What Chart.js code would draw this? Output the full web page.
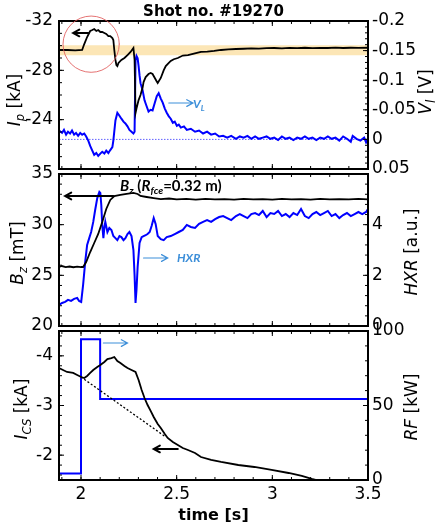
<!DOCTYPE html>
<html lang="en">
<head>
<meta charset="UTF-8">
<title>Shot no. #19270</title>
<script src="https://cdn.jsdelivr.net/npm/chart.js"></script>
<style>
    body { margin: 0; background: #fff; }
    #figura { position: relative; width: 439px; height: 527px; overflow: hidden; }
    #figura canvas { position: absolute; left: 0; top: 0; }
    .rot { position: absolute; transform: translate(-50%, -50%) rotate(-90deg); white-space: nowrap;
           font-family: 'DejaVu Sans', sans-serif; font-size: 17px; line-height: 1; color: #000; }
    .nota { position: absolute; white-space: nowrap; font-family: Lato, sans-serif; font-weight: bold;
            line-height: 1; transform: translateY(-50%); }
    sub { font-size: 68%; vertical-align: -0.35em; line-height: 0; }
</style>
</head>
<body>
<div id="figura">
    <canvas id="painel1" width="439" height="527"></canvas>
    <canvas id="painel2" width="439" height="527"></canvas>
    <canvas id="painel3" width="439" height="527"></canvas>

    <div class="rot" style="left:14px; top:100px"><i>I</i><sub><i>p</i></sub> [kA]</div>
    <div class="rot" style="left:17px; top:253px"><i>B</i><sub><i>z</i></sub> [mT]</div>
    <div class="rot" style="left:21px; top:409px"><i>I</i><sub><i>CS</i></sub> [kA]</div>
    <div class="rot" style="left:425px; top:92px"><i>V</i><sub><i>l</i></sub> [V]</div>
    <div class="rot" style="left:411px; top:252px"><i>HXR</i> [a.u.]</div>
    <div class="rot" style="left:411px; top:407px"><i>RF</i> [kW]</div>

    <div class="nota" style="left:193px; top:104px; font-size:12px; color:#3d8fd9"><i>V<sub>L</sub></i></div>
    <div class="nota" style="left:177px; top:258px; font-size:12px; color:#3d8fd9"><i>HXR</i></div>
    <div class="nota" style="left:120px; top:185px; font-size:15px; color:#000"><i>B</i><sub><i>z</i></sub> (<i>R</i><sub><i>fce</i></sub>=0.32 m)</div>
</div>

<script>
    // Eixo do tempo (comum aos três painéis)
    const tempoLimites = [1.885, 3.5];
    const tempoTicks = [2, 2.5, 3, 3.5];

    // Painel 1: corrente de plasma Ip [kA] e tensão de enlace Vl [V]
    const ipLimites = [-32, -20];
    const ipTicks = [-32, -28, -24];
    const vlLimites = [-0.2, 0.05];
    const vlTicks = [-0.2, -0.15, -0.1, -0.05, 0, 0.05];
    const faixaIp = [-30.04, -29.23];
    const ipDados = [
        [1.885, -29.65], [1.93, -29.65], [1.97, -29.62], [2.006, -29.65], [2.017, -30.13], [2.032, -30.70],
        [2.048, -31.19], [2.059, -31.27], [2.069, -31.35], [2.08, -31.19], [2.09, -31.27], [2.101, -31.11],
        [2.111, -31.11], [2.122, -31.03], [2.132, -30.95], [2.143, -30.78], [2.153, -30.78], [2.164, -30.62],
        [2.169, -30.46], [2.174, -29.65], [2.18, -28.84], [2.185, -28.43], [2.19, -28.35], [2.196, -28.6],
        [2.211, -28.84], [2.227, -29.0], [2.243, -29.24], [2.259, -29.49], [2.274, -29.81], [2.28, -28.84],
        [2.285, -24.54], [2.29, -24.9], [2.301, -25.59], [2.311, -26.0], [2.322, -26.6], [2.327, -27.05],
        [2.338, -27.45], [2.353, -27.70], [2.364, -27.78], [2.374, -27.70], [2.385, -27.40], [2.396, -27.10],
        [2.401, -26.97], [2.417, -27.38], [2.432, -28.0], [2.443, -28.35], [2.459, -28.6], [2.469, -28.76],
        [2.485, -28.9], [2.506, -29.0], [2.532, -29.2], [2.559, -29.24], [2.59, -29.35], [2.627, -29.49],
        [2.66, -29.52], [2.696, -29.57], [2.732, -29.65], [2.77, -29.7], [2.81, -29.73], [2.85, -29.75],
        [2.89, -29.78], [2.93, -29.76], [2.97, -29.8], [3.01, -29.81], [3.05, -29.78], [3.09, -29.82],
        [3.13, -29.80], [3.17, -29.83], [3.21, -29.80], [3.25, -29.82], [3.29, -29.81], [3.33, -29.84],
        [3.37, -29.81], [3.41, -29.83], [3.45, -29.82], [3.5, -29.83]
    ];
    const vlDados = [
        [1.885, -0.015], [1.901, -0.011], [1.911, -0.016], [1.922, -0.008], [1.932, -0.013], [1.943, -0.010],
        [1.953, -0.015], [1.964, -0.008], [1.974, -0.011], [1.985, -0.006], [1.996, -0.011], [2.006, -0.008],
        [2.017, -0.010], [2.027, -0.005], [2.038, 0.002], [2.048, 0.011], [2.059, 0.019], [2.069, 0.026],
        [2.080, 0.023], [2.090, 0.028], [2.101, 0.024], [2.111, 0.021], [2.122, 0.024], [2.132, 0.019],
        [2.143, 0.023], [2.153, 0.018], [2.164, 0.013], [2.169, 0.002], [2.180, -0.032], [2.190, -0.045],
        [2.201, -0.040], [2.211, -0.035], [2.222, -0.030], [2.232, -0.027], [2.243, -0.022], [2.253, -0.016],
        [2.264, -0.013], [2.274, -0.010], [2.280, -0.013], [2.285, -0.134], [2.290, -0.141], [2.296, -0.137],
        [2.301, -0.124], [2.306, -0.108], [2.311, -0.095], [2.322, -0.083], [2.332, -0.066], [2.343, -0.056],
        [2.353, -0.047], [2.364, -0.050], [2.374, -0.049], [2.385, -0.061], [2.396, -0.073], [2.406, -0.078],
        [2.417, -0.069], [2.427, -0.062], [2.438, -0.052], [2.448, -0.045], [2.459, -0.039], [2.469, -0.035],
        [2.480, -0.028], [2.490, -0.030], [2.501, -0.023], [2.511, -0.025], [2.522, -0.020], [2.538, -0.022],
        [2.553, -0.016], [2.574, -0.018], [2.596, -0.013], [2.617, -0.015], [2.638, -0.010], [2.659, -0.013],
        [2.680, -0.008], [2.701, -0.010], [2.722, -0.005], [2.743, -0.006], [2.764, -0.003], [2.785, -0.006],
        [2.81, -0.001], [2.83, -0.005], [2.85, -0.003], [2.87, -0.006], [2.89, -0.001], [2.91, -0.005],
        [2.93, -0.001], [2.95, -0.003], [2.97, -0.005], [2.99, -0.001], [3.01, -0.003], [3.03, 0.001],
        [3.05, -0.005], [3.07, -0.001], [3.09, -0.003], [3.11, 0.001], [3.13, -0.003], [3.15, -0.001],
        [3.17, -0.005], [3.19, -0.001], [3.21, -0.003], [3.23, 0.001], [3.25, -0.003], [3.27, -0.001],
        [3.29, -0.005], [3.31, -0.001], [3.33, -0.003], [3.35, 0.002], [3.37, -0.005], [3.39, -0.001],
        [3.41, 0.004], [3.42, -0.006], [3.44, -0.001], [3.46, 0.002], [3.48, -0.003], [3.49, 0.005], [3.5, -0.001]
    ];
    const vlZero = [[1.885, 0], [3.5, 0]];

    // Painel 2: campo vertical Bz [mT] e raios X duros HXR [u.a.]
    const bzLimites = [20, 35];
    const bzTicks = [20, 25, 30, 35];
    const hxrLimites = [0, 6];
    const hxrTicks = [0, 2, 4];
    const bzDados = [
        [1.885, 25.82], [1.90, 25.92], [1.92, 25.82], [1.94, 25.87], [1.96, 25.80], [1.98, 25.85],
        [2.0, 25.82], [2.011, 25.82], [2.027, 26.31], [2.048, 27.30], [2.069, 28.19], [2.090, 29.08],
        [2.111, 30.26], [2.132, 31.55], [2.153, 32.44], [2.174, 32.83], [2.206, 32.93], [2.238, 33.03],
        [2.274, 33.13], [2.296, 33.03], [2.311, 32.83], [2.343, 32.73], [2.38, 32.63], [2.417, 32.53],
        [2.46, 32.58], [2.50, 32.50], [2.55, 32.55], [2.60, 32.48], [2.65, 32.55], [2.70, 32.50],
        [2.75, 32.53], [2.80, 32.48], [2.85, 32.55], [2.90, 32.50], [2.95, 32.53], [3.00, 32.48],
        [3.05, 32.55], [3.10, 32.50], [3.15, 32.53], [3.20, 32.48], [3.25, 32.55], [3.30, 32.50],
        [3.35, 32.53], [3.40, 32.50], [3.45, 32.55], [3.5, 32.50]
    ];
    const hxrDados = [
        [1.885, 0.83], [1.901, 0.91], [1.917, 0.95], [1.932, 1.03], [1.948, 0.99], [1.964, 1.07],
        [1.980, 1.11], [1.990, 0.99], [2.001, 0.95], [2.011, 1.62], [2.022, 2.53], [2.032, 3.20],
        [2.043, 3.47], [2.053, 3.71], [2.064, 4.11], [2.074, 4.58], [2.085, 5.05], [2.096, 5.29],
        [2.101, 5.25], [2.106, 4.78], [2.111, 3.99], [2.117, 3.47], [2.122, 3.87], [2.127, 4.11],
        [2.138, 3.71], [2.148, 3.87], [2.159, 3.79], [2.169, 3.55], [2.180, 3.47], [2.190, 3.39],
        [2.201, 3.55], [2.211, 3.51], [2.222, 3.39], [2.232, 3.47], [2.243, 3.63], [2.253, 3.71],
        [2.264, 3.55], [2.274, 3.00], [2.280, 2.01], [2.285, 0.91], [2.290, 1.42], [2.296, 2.33],
        [2.306, 3.28], [2.317, 3.51], [2.327, 3.55], [2.338, 3.59], [2.348, 3.63], [2.359, 3.71],
        [2.369, 3.95], [2.380, 4.26], [2.390, 4.03], [2.401, 3.55], [2.417, 3.43], [2.432, 3.39],
        [2.448, 3.51], [2.469, 3.55], [2.490, 3.63], [2.511, 3.71], [2.532, 3.79], [2.553, 3.99],
        [2.574, 3.91], [2.596, 3.87], [2.617, 4.03], [2.638, 4.11], [2.659, 4.18], [2.680, 4.11],
        [2.701, 4.22], [2.722, 4.30], [2.743, 4.34], [2.764, 4.26], [2.785, 4.18], [2.81, 4.34],
        [2.83, 4.42], [2.85, 4.34], [2.87, 4.26], [2.89, 4.42], [2.91, 4.46], [2.93, 4.38],
        [2.95, 4.54], [2.97, 4.30], [2.99, 4.46], [3.01, 4.42], [3.03, 4.54], [3.05, 4.34],
        [3.07, 4.42], [3.09, 4.30], [3.11, 4.46], [3.13, 4.38], [3.15, 4.62], [3.17, 4.34],
        [3.19, 4.26], [3.21, 4.42], [3.23, 4.50], [3.25, 4.38], [3.27, 4.46], [3.29, 4.54],
        [3.31, 4.34], [3.33, 4.42], [3.35, 4.26], [3.37, 4.38], [3.39, 4.46], [3.41, 4.34],
        [3.43, 4.42], [3.45, 4.50], [3.47, 4.42], [3.49, 4.50], [3.5, 4.62]
    ];

    // Painel 3: corrente do solenoide central Ics [kA] e potência de RF [kW]
    const icsLimites = [-4.5, -1.5];
    const icsTicks = [-4, -3, -2];
    const rfLimites = [0, 100];
    const rfTicks = [0, 50, 100];
    const icsDados = [
        [1.885, -3.755], [1.906, -3.715], [1.927, -3.675], [1.959, -3.655], [1.980, -3.614], [2.001, -3.574],
        [2.017, -3.554], [2.032, -3.594], [2.048, -3.655], [2.064, -3.715], [2.085, -3.775], [2.101, -3.816],
        [2.122, -3.876], [2.138, -3.936], [2.159, -3.956], [2.174, -3.977], [2.190, -3.896], [2.206, -3.856],
        [2.227, -3.795], [2.243, -3.755], [2.264, -3.715], [2.285, -3.675], [2.301, -3.514], [2.317, -3.312],
        [2.332, -3.151], [2.348, -3.010], [2.364, -2.890], [2.380, -2.769], [2.401, -2.628], [2.417, -2.547],
        [2.438, -2.427], [2.453, -2.346], [2.480, -2.266], [2.506, -2.205], [2.532, -2.145], [2.559, -2.104],
        [2.596, -2.044], [2.627, -1.963], [2.680, -1.903], [2.732, -1.863], [2.822, -1.802], [2.906, -1.762],
        [2.996, -1.702], [3.085, -1.641], [3.154, -1.581], [3.206, -1.521], [3.27, -1.46]
    ];
    const icsTendencia = [[2.0, -3.574], [2.443, -2.366]];
    const rfDados = [[1.885, 4.4], [2.0, 4.4], [2.0, 94.5], [2.1, 94.5], [2.1, 54.3], [3.5, 54.3]];

    // Setas e círculo de anotação, em coordenadas de dados (eixo da esquerda)
    const setasP1 = [
        { de: [2.038, -31.03], para: [1.959, -31.03], cor: '#000', larg: 2 },
        { de: [2.459, -25.35], para: [2.585, -25.35], cor: '#3d8fd9', larg: 1.2 }
    ];
    const circuloP1 = { centro: [2.053, -30.12], raio: 0.147 };
    const setasP2 = [
        { de: [2.169, 32.83], para: [1.917, 32.83], cor: '#000', larg: 2 },
        { de: [2.327, 26.71], para: [2.453, 26.71], cor: '#3d8fd9', larg: 1.2 }
    ];
    const setasP3 = [
        { de: [2.117, -4.258], para: [2.243, -4.258], cor: '#3d8fd9', larg: 1.2 },
        { de: [2.506, -2.125], para: [2.380, -2.125], cor: '#000', larg: 2 }
    ];

    const fonteTick = { family: "'DejaVu Sans', sans-serif", size: 17 };

    // Moldura, marcas internas dos eixos, setas e círculo
    const molduraPlugin = {
        id: 'moldura',
        afterDatasetsDraw(chart, args, opts) {
            const ctx = chart.ctx;
            const a = chart.chartArea;
            const sx = chart.scales.x, se = chart.scales.yE, sd = chart.scales.yD;
            ctx.save();
            ctx.strokeStyle = '#000';
            ctx.lineWidth = 1;

            function marcas(escala, passo, desenha) {
                escala.ticks.forEach(t => desenha(escala.getPixelForValue(t.value), 5));
                let v = Math.ceil(escala.min / passo - 1e-9) * passo;
                for (; v <= escala.max + 1e-9; v += passo) desenha(escala.getPixelForValue(v), 3);
            }
            marcas(sx, 0.1, (p, l) => {
                ctx.beginPath();
                ctx.moveTo(p, a.top); ctx.lineTo(p, a.top + l);
                ctx.moveTo(p, a.bottom); ctx.lineTo(p, a.bottom - l);
                ctx.stroke();
            });
            marcas(se, opts.passoE, (p, l) => {
                ctx.beginPath(); ctx.moveTo(a.left, p); ctx.lineTo(a.left + l, p); ctx.stroke();
            });
            marcas(sd, opts.passoD, (p, l) => {
                ctx.beginPath(); ctx.moveTo(a.right, p); ctx.lineTo(a.right - l, p); ctx.stroke();
            });

            ctx.lineWidth = 2;
            ctx.strokeRect(a.left, a.top, a.right - a.left, a.bottom - a.top);

            (opts.setas || []).forEach(s => {
                const x1 = sx.getPixelForValue(s.de[0]), y1 = se.getPixelForValue(s.de[1]);
                const x2 = sx.getPixelForValue(s.para[0]), y2 = se.getPixelForValue(s.para[1]);
                const ang = Math.atan2(y2 - y1, x2 - x1);
                const tam = 7;
                ctx.strokeStyle = s.cor;
                ctx.lineWidth = s.larg;
                ctx.lineCap = 'round';
                ctx.beginPath();
                ctx.moveTo(x1, y1); ctx.lineTo(x2, y2);
                ctx.moveTo(x2 - tam * Math.cos(ang - 0.5), y2 - tam * Math.sin(ang - 0.5));
                ctx.lineTo(x2, y2);
                ctx.lineTo(x2 - tam * Math.cos(ang + 0.5), y2 - tam * Math.sin(ang + 0.5));
                ctx.stroke();
            });

            if (opts.circulo) {
                const c = opts.circulo;
                const cx = sx.getPixelForValue(c.centro[0]), cy = se.getPixelForValue(c.centro[1]);
                const r = sx.getPixelForValue(c.centro[0] + c.raio) - cx;
                ctx.strokeStyle = 'rgba(225, 90, 90, 0.85)';
                ctx.lineWidth = 1;
                ctx.beginPath(); ctx.arc(cx, cy, r, 0, Math.PI * 2); ctx.stroke();
            }
            ctx.restore();
        }
    };

    function serie(pares, eixo, cor, largura, tracejado) {
        return {
            data: pares.map(p => ({ x: p[0], y: p[1] })),
            yAxisID: eixo,
            borderColor: cor,
            borderWidth: largura,
            borderDash: tracejado || [],
            pointRadius: 0,
            tension: 0,
            fill: false
        };
    }

    function eixoY(posicao, limites, ticks, largura, inverter) {
        return {
            type: 'linear',
            position: posicao,
            min: limites[0],
            max: limites[1],
            reverse: inverter,
            grid: { display: false, drawTicks: false },
            border: { display: false },
            ticks: {
                autoSkip: false,
                padding: posicao === 'left' ? 6 : 4,
                color: '#000',
                font: fonteTick,
                callback: v => String(v)
            },
            afterBuildTicks: s => { s.ticks = ticks.map(v => ({ value: v })); },
            afterFit: s => { s.width = largura; }
        };
    }

    function eixoX(mostrar) {
        return {
            type: 'linear',
            display: mostrar,
            min: tempoLimites[0],
            max: tempoLimites[1],
            grid: { display: false, drawTicks: false },
            border: { display: false },
            ticks: { autoSkip: false, padding: 4, color: '#000', font: fonteTick, callback: v => String(v) },
            title: {
                display: true,
                text: 'time [s]',
                color: '#000',
                font: { family: "'DejaVu Sans', sans-serif", size: 16, weight: 'bold' },
                padding: { top: 0, bottom: 2 }
            },
            afterBuildTicks: s => { s.ticks = tempoTicks.map(v => ({ value: v })); },
            // só o painel de baixo reserva espaço para os rótulos do tempo
            afterFit: s => { s.height = mostrar ? 47 : 0; }
        };
    }

    function criarPainel(id, datasets, escalas, padding, extras) {
        return new Chart(document.getElementById(id), {
            type: 'line',
            data: { datasets: datasets },
            options: {
                responsive: false,
                animation: false,
                events: [],
                layout: { padding: padding },
                scales: escalas,
                plugins: Object.assign({
                    legend: { display: false },
                    tooltip: { enabled: false }
                }, extras)
            },
            plugins: [molduraPlugin]
        });
    }

    // Painel 1
    criarPainel('painel1', [
        serie(ipDados, 'yE', '#000', 1.8),
        serie(vlDados, 'yD', '#0000ff', 2),
        serie(vlZero, 'yD', 'rgba(70, 70, 255, 0.85)', 1, [1.5, 1.5]),
        serie([[tempoLimites[0], faixaIp[0]], [tempoLimites[1], faixaIp[0]]], 'yE', 'rgba(0,0,0,0)', 0),
        Object.assign(serie([[tempoLimites[0], faixaIp[1]], [tempoLimites[1], faixaIp[1]]], 'yE', 'rgba(0,0,0,0)', 0),
            { fill: '-1', backgroundColor: 'rgba(250, 205, 110, 0.5)' })
    ], {
        x: eixoX(false),
        yE: eixoY('left', ipLimites, ipTicks, 59, true),
        yD: eixoY('right', vlLimites, vlTicks, 71, true)
    }, { top: 0, bottom: 358, left: 0, right: 0 }, {
        title: {
            display: true,
            text: 'Shot no. #19270',
            color: '#000',
            fullSize: false,
            font: { family: "'DejaVu Sans', sans-serif", size: 15, weight: 'bold' },
            padding: { top: 3, bottom: 0 }
        },
        moldura: { passoE: 1, passoD: 0.01, setas: setasP1, circulo: circuloP1 }
    });

    // Painel 2
    criarPainel('painel2', [
        serie(bzDados, 'yE', '#000', 1.8),
        serie(hxrDados, 'yD', '#0000ff', 2)
    ], {
        x: eixoX(false),
        yE: eixoY('left', bzLimites, bzTicks, 59, false),
        yD: eixoY('right', hxrLimites, hxrTicks, 71, false)
    }, { top: 174, bottom: 201, left: 0, right: 0 }, {
        moldura: { passoE: 1, passoD: 0.4, setas: setasP2 }
    });

    // Painel 3
    criarPainel('painel3', [
        serie(icsDados, 'yE', '#000', 1.8),
        serie(icsTendencia, 'yE', '#000', 1.3, [2, 2]),
        serie(rfDados, 'yD', '#0000ff', 2)
    ], {
        x: eixoX(true),
        yE: eixoY('left', icsLimites, icsTicks, 59, true),
        yD: eixoY('right', rfLimites, rfTicks, 71, false)
    }, { top: 331, bottom: 0, left: 0, right: 0 }, {
        moldura: { passoE: 0.2, passoD: 10, setas: setasP3 }
    });
</script>
</body>
</html>
